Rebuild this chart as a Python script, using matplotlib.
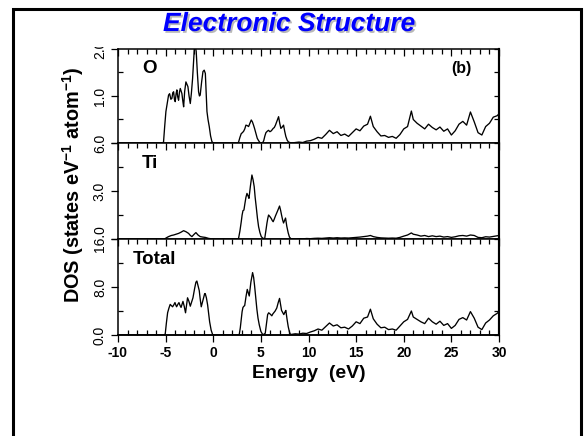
import matplotlib
matplotlib.use("Agg")
import matplotlib.pyplot as plt
from matplotlib.ticker import MultipleLocator, FixedLocator
from matplotlib.patches import Rectangle
from matplotlib.transforms import Bbox, TransformedBbox
import matplotlib.patheffects as pe

plt.rcParams['font.family'] = ['Liberation Sans', 'DejaVu Sans']
plt.rcParams['font.weight'] = 'bold'
plt.rcParams['mathtext.fontset'] = 'custom'
plt.rcParams['mathtext.rm'] = 'Liberation Sans:bold'
plt.rcParams['mathtext.bf'] = 'Liberation Sans:bold'
plt.rcParams['mathtext.default'] = 'bf'

# ---------------- data (energy in eV, DOS in states/eV/atom) ----------------
o_valence = [(-10.0, 0.0), (-5.35, 0.0), (-5.22, 0.02), (-5.1, 0.35), (-4.97, 0.67), (-4.82, 0.85),
             (-4.69, 1.02), (-4.58, 1.05), (-4.45, 0.93), (-4.34, 0.95), (-4.25, 1.07), (-4.16, 1.09),
             (-4.07, 0.92), (-3.99, 0.88), (-3.9, 1.05), (-3.82, 1.13), (-3.73, 0.98), (-3.64, 0.91),
             (-3.55, 1.08), (-3.46, 1.16), (-3.37, 1.1), (-3.29, 1.05), (-3.2, 0.9), (-3.11, 0.77),
             (-3.0, 1.1), (-2.87, 1.3), (-2.77, 1.25), (-2.66, 1.2), (-2.54, 1.0), (-2.41, 0.84),
             (-2.3, 1.05), (-2.17, 1.37), (-2.06, 1.75), (-1.96, 2.1), (-1.88, 2.05), (-1.79, 1.95),
             (-1.67, 1.5), (-1.54, 1.09), (-1.45, 1.0), (-1.37, 1.02), (-1.22, 1.3), (-1.08, 1.52),
             (-0.95, 1.55), (-0.83, 1.48), (-0.75, 1.1), (-0.66, 0.67), (-0.55, 0.5), (-0.42, 0.35),
             (-0.28, 0.15), (-0.14, 0.03), (0.0, 0.0)]
o_conduction = [(2.55, 0.0), (2.66, 0.02), (2.8, 0.12), (2.94, 0.2), (3.06, 0.22), (3.19, 0.25),
                (3.31, 0.3), (3.43, 0.38), (3.57, 0.37), (3.71, 0.35), (3.85, 0.42), (3.99, 0.49),
                (4.11, 0.45), (4.23, 0.38), (4.35, 0.3), (4.48, 0.2), (4.62, 0.1), (4.76, 0.05),
                (4.9, 0.01), (5.05, 0.0), (5.2, 0.01), (5.3, 0.05), (5.42, 0.15), (5.53, 0.22),
                (5.67, 0.25), (5.8, 0.27), (5.95, 0.24), (6.1, 0.26), (6.29, 0.31), (6.41, 0.33),
                (6.53, 0.38), (6.7, 0.47), (6.86, 0.56), (6.98, 0.42), (7.1, 0.31), (7.24, 0.34),
                (7.38, 0.38), (7.5, 0.25), (7.62, 0.14), (7.76, 0.06), (7.9, 0.02)]

ti_valence = [(-10.0, 0.0), (-5.2, 0.0), (-5.04, 0.03), (-4.85, 0.1), (-4.69, 0.15), (-4.4, 0.22),
              (-4.16, 0.25), (-3.9, 0.3), (-3.64, 0.35), (-3.4, 0.42), (-3.11, 0.52), (-2.85, 0.45),
              (-2.59, 0.35), (-2.4, 0.22), (-2.24, 0.15), (-2.0, 0.3), (-1.82, 0.4), (-1.6, 0.25),
              (-1.37, 0.15), (-1.1, 0.12), (-0.84, 0.1), (-0.5, 0.04), (-0.2, 0.01), (0.0, 0.0)]
ti_conduction = [(2.55, 0.0), (2.66, 0.05), (2.8, 0.5), (2.94, 1.08), (3.03, 1.5), (3.12, 1.77),
                 (3.22, 1.81), (3.32, 2.2), (3.43, 2.6), (3.54, 2.85), (3.65, 2.7), (3.75, 2.54),
                 (3.9, 3.3), (4.06, 4.0), (4.18, 3.7), (4.3, 3.27), (4.4, 2.6), (4.51, 2.02),
                 (4.64, 1.3), (4.76, 0.77), (4.9, 0.4), (5.04, 0.15), (5.2, 0.05), (5.4, 0.02),
                 (5.52, 0.5), (5.64, 1.0), (5.73, 1.3), (5.81, 1.5), (5.95, 1.4), (6.1, 1.27),
                 (6.2, 1.15), (6.29, 1.08), (6.41, 1.25), (6.53, 1.44), (6.75, 1.75), (6.96, 2.06),
                 (7.07, 1.8), (7.17, 1.5), (7.28, 1.2), (7.38, 1.0), (7.48, 1.15), (7.59, 1.31),
                 (7.72, 0.8), (7.87, 0.38), (8.0, 0.12), (8.15, 0.02)]

total_valence = [(-10.0, 0.0), (-5.15, 0.0), (-5.04, 0.2), (-4.92, 2.0), (-4.79, 3.72), (-4.65, 4.5),
                 (-4.52, 5.1), (-4.4, 4.9), (-4.27, 4.7), (-4.15, 5.0), (-4.02, 5.4), (-3.93, 5.0),
                 (-3.85, 4.7), (-3.72, 5.1), (-3.6, 5.4), (-3.48, 4.9), (-3.38, 4.6), (-3.28, 5.1),
                 (-3.18, 5.6), (-3.05, 4.8), (-2.91, 3.7), (-2.8, 5.0), (-2.7, 6.2), (-2.55, 5.6),
                 (-2.41, 4.8), (-2.27, 5.5), (-2.13, 6.2), (-1.95, 7.8), (-1.82, 8.8), (-1.72, 9.0),
                 (-1.6, 8.2), (-1.47, 7.4), (-1.37, 6.0), (-1.26, 4.7), (-1.05, 6.0), (-0.9, 6.9),
                 (-0.84, 6.9), (-0.72, 6.2), (-0.59, 5.0), (-0.48, 3.5), (-0.38, 2.2), (-0.22, 0.8),
                 (-0.07, 0.1), (0.05, 0.0)]
total_conduction = [(2.6, 0.0), (2.73, 0.1), (2.84, 1.2), (2.94, 2.6), (3.03, 3.9), (3.12, 4.6),
                    (3.22, 4.8), (3.3, 4.9), (3.45, 6.5), (3.57, 7.6), (3.67, 7.1), (3.78, 6.5),
                    (3.95, 8.8), (4.13, 10.4), (4.24, 9.6), (4.34, 8.2), (4.46, 6.2), (4.58, 4.3),
                    (4.7, 2.8), (4.83, 1.7), (5.0, 0.6), (5.18, 0.1), (5.3, 0.1), (5.46, 0.3),
                    (5.58, 1.8), (5.71, 3.4), (5.82, 3.7), (5.97, 3.5), (6.15, 3.2), (6.25, 3.5),
                    (6.35, 3.7), (6.5, 4.0), (6.67, 4.5), (6.82, 5.4), (6.96, 6.1), (7.07, 5.0),
                    (7.17, 4.1), (7.3, 3.7), (7.41, 3.4), (7.52, 3.8), (7.62, 4.1), (7.75, 2.6),
                    (7.87, 1.4), (8.0, 0.5), (8.1, 0.1)]

bg_energy = [8.2, 8.6, 9.0, 9.4, 9.8, 10.2, 10.6, 11.0, 11.4, 11.8,
             12.2, 12.6, 13.0, 13.4, 13.8, 14.2, 14.6, 15.0, 15.4, 15.8,
             16.2, 16.5, 16.8, 17.2, 17.6, 18.0, 18.4, 18.8, 19.2, 19.6,
             20.0, 20.4, 20.8, 21.0, 21.4, 21.8, 22.2, 22.6, 23.0, 23.4,
             23.8, 24.2, 24.6, 25.0, 25.4, 25.8, 26.2, 26.6, 27.0, 27.4,
             27.8, 28.2, 28.6, 29.0, 29.4, 29.8, 30.0]
o_background = [0.0, 0.01, 0.02, 0.01, 0.04, 0.05, 0.08, 0.12, 0.10, 0.18,
                0.27, 0.20, 0.24, 0.16, 0.19, 0.14, 0.22, 0.30, 0.26, 0.36,
                0.40, 0.57, 0.35, 0.24, 0.15, 0.16, 0.12, 0.14, 0.10, 0.18,
                0.30, 0.35, 0.68, 0.50, 0.42, 0.36, 0.30, 0.40, 0.33, 0.28,
                0.34, 0.25, 0.30, 0.17, 0.26, 0.40, 0.46, 0.38, 0.66, 0.45,
                0.22, 0.17, 0.35, 0.42, 0.55, 0.58, 0.62]
ti_background = [0.02, 0.0, 0.02, 0.01, 0.03, 0.02, 0.04, 0.05, 0.04, 0.06,
                 0.08, 0.06, 0.08, 0.06, 0.07, 0.06, 0.08, 0.10, 0.12, 0.15,
                 0.18, 0.22, 0.15, 0.10, 0.07, 0.06, 0.05, 0.06, 0.05, 0.10,
                 0.18, 0.25, 0.38, 0.30, 0.25, 0.18, 0.22, 0.15, 0.20, 0.15,
                 0.18, 0.12, 0.15, 0.10, 0.14, 0.20, 0.22, 0.18, 0.25, 0.22,
                 0.10, 0.08, 0.14, 0.12, 0.16, 0.20, 0.22]
total_background = [0.1, 0.2, 0.15, 0.3, 0.25, 0.5, 0.7, 1.0, 0.8, 1.4,
                    2.0, 1.5, 1.7, 1.2, 1.3, 1.0, 1.5, 2.2, 1.9, 2.8,
                    3.0, 4.3, 2.7, 1.8, 1.2, 1.3, 0.9, 1.0, 0.8, 1.5,
                    2.2, 2.6, 4.0, 3.0, 2.6, 2.2, 1.9, 2.8, 2.2, 1.8,
                    2.3, 1.6, 1.9, 1.1, 1.6, 2.6, 2.9, 2.5, 3.9, 2.8,
                    1.3, 0.9, 2.0, 2.5, 3.2, 3.6, 3.9]

panel_names = ["O", "Ti", "Total"]
y_limits = [(0.0, 2.0), (0.0, 6.0), (0.0, 16.0)]
y_major = [[0.0, 1.0, 2.0], [0.0, 3.0, 6.0], [0.0, 8.0, 16.0]]
y_major_labels = [["", "1.0", "2.0"], ["", "3.0", "6.0"], ["0.0", "8.0", "16.0"]]
y_minor = [[0.5, 1.5], [1.5, 4.5], [4.0, 12.0]]
x_ticks = [-10, -5, 0, 5, 10, 15, 20, 25, 30]
x_tick_labels = ["-10", "-5", "0", "5", "10", "15", "20", "25", "30"]


def series(valence, conduction, background):
    pts = valence + conduction + list(zip(bg_energy, background))
    return [p[0] for p in pts], [p[1] for p in pts]


curves = [series(o_valence, o_conduction, o_background),
          series(ti_valence, ti_conduction, ti_background),
          series(total_valence, total_conduction, total_background)]

# ---------------- figure ----------------
W, H = 585, 436
fig = plt.figure(figsize=(W / 100, H / 100), dpi=100)
fig.patch.set_facecolor('white')


def px_axes(left, top, right, bottom):
    return fig.add_axes([left / W, 1 - bottom / H, (right - left) / W, (bottom - top) / H])


panel_px = [(118, 49, 499, 143), (118, 143, 499, 239), (118, 239, 499, 335)]
label_pos = [(0.063, 0.79), (0.063, 0.79), (0.039, 0.79)]

axes = []
for i, (name, (e, v)) in enumerate(zip(panel_names, curves)):
    ax = px_axes(*panel_px[i])
    axes.append(ax)
    ax.plot(e, v, color='black', lw=0.95)
    ax.set_xlim(-10, 30)
    ax.set_ylim(*y_limits[i])
    for s in ax.spines.values():
        s.set_linewidth(1.1)
    ax.spines['right'].set_linewidth(1.5)

    # x ticks: top of each panel inward
    ax.set_xticks(x_ticks)
    ax.xaxis.set_minor_locator(MultipleLocator(1))
    ax.tick_params(axis='x', which='both', top=True, bottom=False, labeltop=False,
                   labelbottom=False, direction='in', width=0.9)
    ax.tick_params(axis='x', which='major', length=5)
    ax.tick_params(axis='x', which='minor', length=3.5)

    # y ticks left
    ax.set_yticks(y_major[i], y_major_labels[i])
    ax.yaxis.set_minor_locator(FixedLocator(y_minor[i]))
    ax.tick_params(axis='y', which='major', left=True, right=False, direction='out',
                   length=5, width=0.9, labelsize=10, labelrotation=90, pad=3)
    ax.tick_params(axis='y', which='minor', left=True, right=False, direction='in',
                   length=3.5, width=0.9)
    for lab in ax.get_yticklabels():
        lab.set_verticalalignment('center')
        lab.set_fontweight('normal')

    # right side ticks inward
    sec = ax.secondary_yaxis('right')
    sec.set_yticks(y_major[i] + y_minor[i])
    sec.tick_params(axis='y', direction='in', length=3.5, width=0.9, labelright=False)
    sec.spines['right'].set_linewidth(1.5)

    ax.text(label_pos[i][0], label_pos[i][1], name, transform=ax.transAxes,
            fontsize=13.5, fontweight='bold', ha='left', va='center')

    if i == 2:
        secx = ax.secondary_xaxis('bottom')
        secx.set_xticks(x_ticks, x_tick_labels)
        secx.xaxis.set_minor_locator(MultipleLocator(1))
        secx.tick_params(which='major', direction='out', length=5, width=0.9,
                         labelsize=10, pad=3)
        secx.tick_params(which='minor', direction='in', length=3.5, width=0.9)
        secx.spines['bottom'].set_linewidth(1.1)

axes[0].text(0.90, 0.79, "(b)", transform=axes[0].transAxes, fontsize=11.5,
             fontweight='bold', ha='center', va='center')

# the scanned figure is cropped just above the top panel: the "2.0" label is cut
clip = TransformedBbox(Bbox([[0, 0], [1, 1 - 47 / H]]), fig.transFigure)
for lab in axes[0].get_yticklabels():
    lab.set_clip_on(True)
    lab.set_clip_box(clip)
fig.patches.append(Rectangle((85 / W, 1 - 47 / H), 28 / W, 10 / H, transform=fig.transFigure,
                             facecolor='white', edgecolor='none', zorder=5))

# axis labels
fig.text(308.5 / W, 1 - 373 / H, "Energy  (eV)", fontsize=14, fontweight='bold',
         ha='center', va='center')
fig.text(73 / W, 1 - 185 / H, r"DOS (states eV$^{-1}$ atom$^{-1}$)", fontsize=14.3,
         fontweight='bold', rotation=90, ha='center', va='center')

# slide title with shadow
fig.text(289 / W, 1 - 24 / H, "Electronic Structure", color='#0000ff', fontsize=19,
         fontweight='bold', style='italic', ha='center', va='center',
         path_effects=[pe.withSimplePatchShadow(offset=(1.3, -1.3), shadow_rgbFace='#9a9a9a',
                                                alpha=0.7)])

# slide border
fig.patches.append(Rectangle((12.5 / W, -0.1), (581 - 12.5) / W, 1.1 - 8.7 / H,
                             transform=fig.transFigure, fill=False, edgecolor='black',
                             lw=2.2, clip_on=False))

fig.savefig("out.png", dpi=100)
